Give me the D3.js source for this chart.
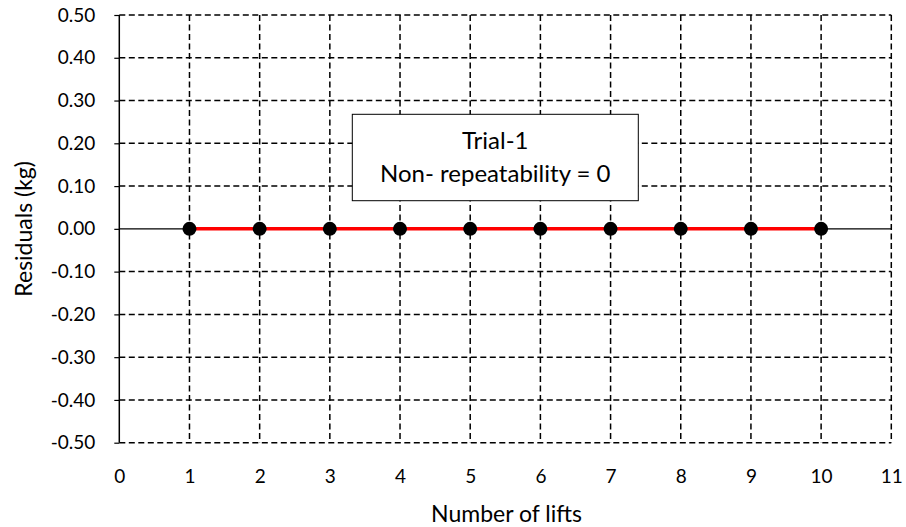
<!DOCTYPE html>
<html><head><meta charset="utf-8">
<script src="https://cdn.jsdelivr.net/npm/d3@7"></script>
<style>body{margin:0;background:#fff;} text{font-family:Lato,"Open Sans",sans-serif;fill:#000;}</style>
</head><body>
<svg id="c" width="906" height="527"></svg>
<script>
const lifts = [1,2,3,4,5,6,7,8,9,10];
const residuals = [0,0,0,0,0,0,0,0,0,0];
const xTicks = [0,1,2,3,4,5,6,7,8,9,10,11];
const yTicks = [0.5,0.4,0.3,0.2,0.1,0,-0.1,-0.2,-0.3,-0.4,-0.5];
const annotation = ["Trial-1", "Non- repeatability = 0"];

const svg = d3.select("#c");
const L=119.3, R=891.3, T=15, B=442.7;
const x = d3.scaleLinear().domain([0,11]).range([L,R]);
const y = d3.scaleLinear().domain([-0.5,0.5]).range([B,T]);
const dash = "6,3.5";
const fmtY = d => d.toFixed(2);

// horizontal gridlines
svg.append("g").selectAll("line").data(yTicks.filter(d=>d!==0)).join("line")
  .attr("x1",L).attr("x2",R).attr("y1",d=>y(d)).attr("y2",d=>y(d))
  .attr("stroke","#000").attr("stroke-width",1.5).attr("stroke-dasharray",dash);
// vertical gridlines
svg.append("g").selectAll("line").data(xTicks.filter(d=>d!==0)).join("line")
  .attr("x1",d=>x(d)).attr("x2",d=>x(d)).attr("y1",T).attr("y2",B)
  .attr("stroke","#000").attr("stroke-width",1.5).attr("stroke-dasharray",dash);

// y axis
const yAxis = d3.axisLeft(y).tickValues(yTicks).tickSize(5).tickPadding(19).tickFormat(fmtY);
const gy = svg.append("g").attr("transform",`translate(${L},0)`).call(yAxis);
gy.select(".domain").attr("stroke","#000").attr("stroke-width",1.5).attr("d",`M-0,${T}V${B}`);
gy.selectAll(".tick line").attr("stroke","#000").attr("stroke-width",1.2);
gy.selectAll("text").style("font-size","19px").style("font-family","Lato");

// x axis (labels below plot)
const xAxis = d3.axisBottom(x).tickValues(xTicks).tickSize(0).tickPadding(27).tickFormat(d3.format("d"));
const gx = svg.append("g").attr("transform",`translate(0,${B})`).call(xAxis);
gx.select(".domain").remove();
gx.selectAll("text").style("font-size","19px").style("font-family","Lato");

// zero line
svg.append("line").attr("x1",L).attr("x2",R).attr("y1",y(0)).attr("y2",y(0))
  .attr("stroke","#000").attr("stroke-width",1.2);

// annotation box
const bx=352.3, by=114.3, bw=286, bh=86.4;
svg.append("rect").attr("x",bx).attr("y",by).attr("width",bw).attr("height",bh)
  .attr("fill","#fff").attr("stroke","#000").attr("stroke-width",1);
svg.selectAll(".ann").data(annotation).join("text").attr("class","ann")
  .attr("x",bx+bw/2).attr("y",(d,i)=>149+i*33.3).attr("text-anchor","middle")
  .style("font-size","24px").text(d=>d);

// series line
const line = d3.line().x((d,i)=>x(lifts[i])).y(d=>y(d));
svg.append("path").datum(residuals).attr("d",line).attr("fill","none")
  .attr("stroke","#ff0000").attr("stroke-width",3.5);
svg.append("g").selectAll("circle").data(residuals).join("circle")
  .attr("cx",(d,i)=>x(lifts[i])).attr("cy",d=>y(d)).attr("r",7).attr("fill","#000");

// titles
svg.append("text").attr("x",506.5).attr("y",521.7).attr("text-anchor","middle")
  .style("font-size","23px").text("Number of lifts");
svg.append("text").attr("transform",`translate(31.5,${(T+B)/2}) rotate(-90)`).attr("text-anchor","middle")
  .style("font-size","23px").text("Residuals (kg)");
</script>
</body></html>
